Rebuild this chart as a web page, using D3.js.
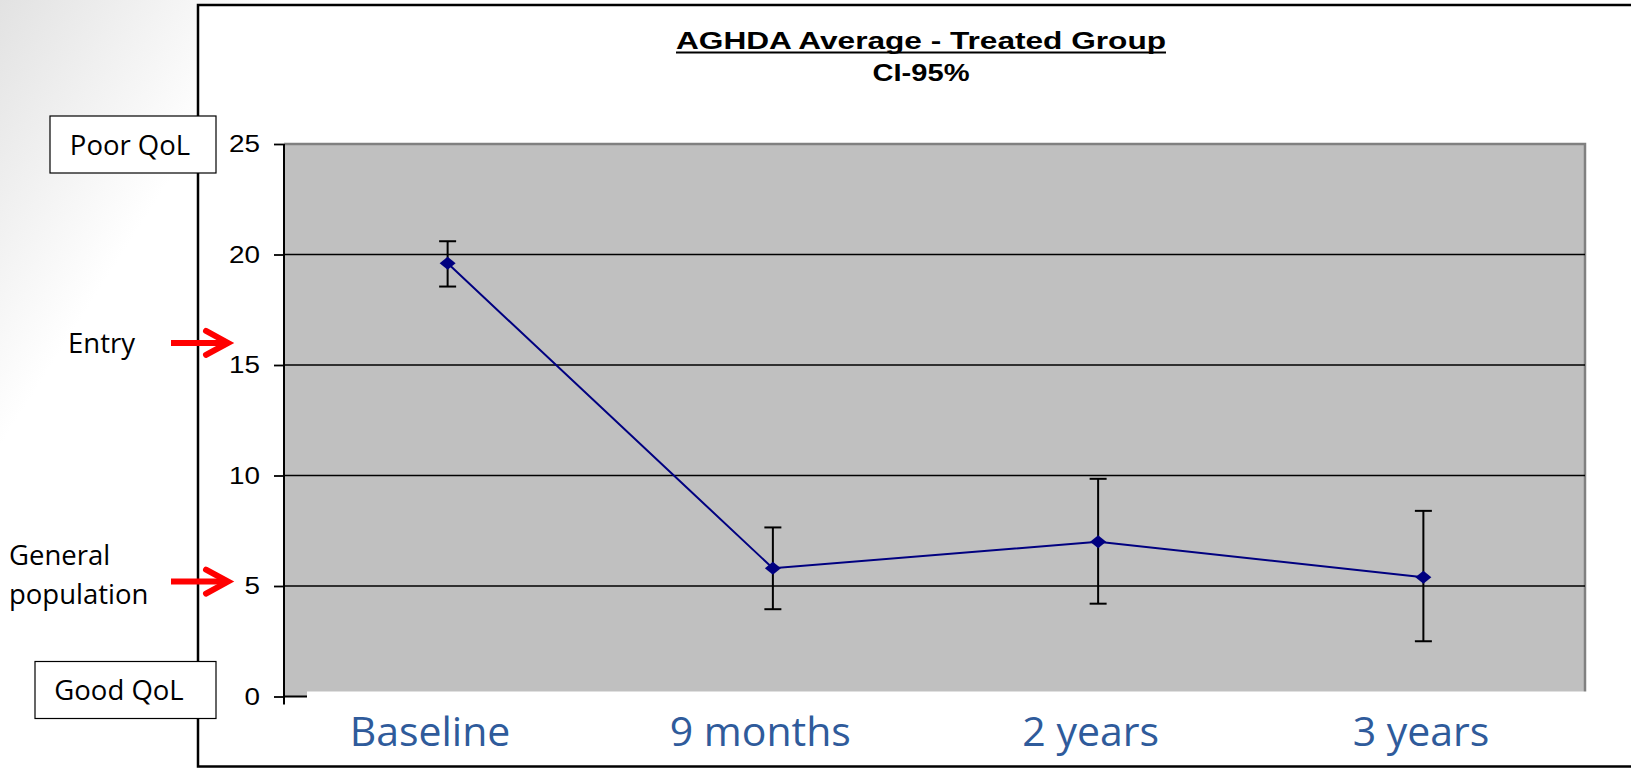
<!DOCTYPE html>
<html>
<head>
<meta charset="utf-8">
<script src="https://cdn.jsdelivr.net/npm/d3@7"></script>
<style>
  html, body { margin: 0; padding: 0; background: #fff; }
  svg { display: block; }
</style>
</head>
<body>
<svg id="chart" width="1631" height="768"></svg>
<script>
// data
var categories = ["Baseline", "9 months", "2 years", "3 years"];
var means = [19.6, 5.8, 7.0, 5.4];
var ciUpper = [20.6, 7.65, 9.85, 8.4];
var ciLower = [18.55, 3.95, 4.2, 2.5];
var yTicks = [0, 5, 10, 15, 20, 25];
var markers = [
  { label: ["Entry"], value: 16 },
  { label: ["General", "population"], value: 5.2 }
];
var qolLabels = [
  { text: "Poor QoL", value: 25 },
  { text: "Good QoL", value: 0 }
];

var svg = d3.select("#chart");
var W = 1631, H = 768;

// note: "top" clashes with window.top, so use plot* names
var plotLeft = 284, plotRight = 1585, plotTop = 144, plotBottom = 696.5;

var x = d3.scaleBand().domain(categories).range([plotLeft + 1, plotRight + 1]);
var y = d3.scaleLinear().domain([0, 25]).range([plotBottom, plotTop]);
function cx(d) { return x(d) + x.bandwidth() / 2; }

// the category names sit in a separate text box under the chart
var xLabel = d3.scalePoint().domain(categories).range([430, 1421]);

var sans = "'Open Sans', 'Noto Sans', sans-serif";
var arial = "'Liberation Sans', Arial, sans-serif";

// slide background
var defs = svg.append("defs");
var grad = defs.append("linearGradient").attr("id", "bg")
    .attr("x1", 0).attr("x2", 1).attr("y1", 0).attr("y2", 0.3);
grad.append("stop").attr("offset", "0%").attr("stop-color", "#e2e2e2");
grad.append("stop").attr("offset", "16%").attr("stop-color", "#ffffff");
grad.append("stop").attr("offset", "100%").attr("stop-color", "#ffffff");
svg.append("rect").attr("width", W).attr("height", H).attr("fill", "url(#bg)");

// chart frame
svg.append("rect")
    .attr("x", 198).attr("y", 5)
    .attr("width", 1640).attr("height", 761.5)
    .attr("fill", "#fff")
    .attr("stroke", "#000").attr("stroke-width", 2.5);

// plot area
svg.append("rect")
    .attr("x", plotLeft).attr("y", plotTop)
    .attr("width", plotRight - plotLeft).attr("height", plotBottom - plotTop)
    .attr("fill", "#c0c0c0");
svg.append("path")
    .attr("d", "M" + plotLeft + "," + plotTop + "H" + plotRight + "V" + plotBottom)
    .attr("fill", "none").attr("stroke", "#808080").attr("stroke-width", 2.5);

// gridlines
svg.append("g").selectAll("line")
    .data(yTicks.filter(function(t) { return t > 0 && t < 25; }))
    .enter().append("line")
    .attr("x1", plotLeft).attr("x2", plotRight)
    .attr("y1", function(d) { return y(d); })
    .attr("y2", function(d) { return y(d); })
    .attr("stroke", "#000").attr("stroke-width", 1.6);

// y axis (labels look horizontally stretched in the original)
var yAxis = svg.append("g")
    .attr("transform", "translate(" + plotLeft + ",0)")
    .call(d3.axisLeft(y).tickValues(yTicks).tickSize(10).tickPadding(14));
yAxis.select(".domain").remove();
yAxis.selectAll(".tick line").attr("stroke", "#000").attr("stroke-width", 1.8);
yAxis.selectAll(".tick text")
    .attr("fill", "#000")
    .attr("textLength", function(d) { return String(d).length * 15.5; })
    .attr("lengthAdjust", "spacingAndGlyphs")
    .style("font-family", arial)
    .style("font-size", "24px");
svg.append("line")
    .attr("x1", plotLeft).attr("x2", plotLeft)
    .attr("y1", plotTop).attr("y2", plotBottom + 8)
    .attr("stroke", "#000").attr("stroke-width", 2);
svg.append("line")
    .attr("x1", plotLeft).attr("x2", plotRight)
    .attr("y1", plotBottom).attr("y2", plotBottom)
    .attr("stroke", "#000").attr("stroke-width", 2);

// error bars
var eb = svg.append("g").selectAll("g")
    .data(categories).enter().append("g");
eb.append("line")
    .attr("x1", cx).attr("x2", cx)
    .attr("y1", function(d, i) { return y(ciUpper[i]); })
    .attr("y2", function(d, i) { return y(ciLower[i]); })
    .attr("stroke", "#000").attr("stroke-width", 2);
eb.append("line")
    .attr("x1", function(d) { return cx(d) - 8.5; })
    .attr("x2", function(d) { return cx(d) + 8.5; })
    .attr("y1", function(d, i) { return y(ciUpper[i]); })
    .attr("y2", function(d, i) { return y(ciUpper[i]); })
    .attr("stroke", "#000").attr("stroke-width", 2);
eb.append("line")
    .attr("x1", function(d) { return cx(d) - 8.5; })
    .attr("x2", function(d) { return cx(d) + 8.5; })
    .attr("y1", function(d, i) { return y(ciLower[i]); })
    .attr("y2", function(d, i) { return y(ciLower[i]); })
    .attr("stroke", "#000").attr("stroke-width", 2);

// mean line
var line = d3.line()
    .x(function(d, i) { return cx(categories[i]); })
    .y(function(d) { return y(d); });
svg.append("path")
    .datum(means)
    .attr("d", line)
    .attr("fill", "none").attr("stroke", "#000080").attr("stroke-width", 2);

svg.append("g").selectAll("path")
    .data(means).enter().append("path")
    .attr("d", function(d, i) {
      var px = cx(categories[i]), py = y(d);
      return "M" + (px - 8) + "," + py + "L" + px + "," + (py - 6.5) +
             "L" + (px + 8) + "," + py + "L" + px + "," + (py + 6.5) + "Z";
    })
    .attr("fill", "#000080");

// category label box (covers the bottom of the plot)
svg.append("rect")
    .attr("x", 307).attr("y", 691.5)
    .attr("width", 1300).attr("height", 73.5)
    .attr("fill", "#fff");
svg.append("g").selectAll("text")
    .data(categories).enter().append("text")
    .attr("x", function(d) { return xLabel(d); })
    .attr("y", 746)
    .attr("text-anchor", "middle")
    .attr("fill", "#2f5b9b")
    .style("font-family", sans)
    .style("font-size", "41px")
    .text(function(d) { return d; });

// left side: QoL boxes
var qb = svg.append("g").selectAll("g")
    .data(qolLabels).enter().append("g");
qb.append("rect")
    .attr("x", function(d, i) { return i === 0 ? 50 : 35; })
    .attr("width", function(d, i) { return i === 0 ? 166 : 181; })
    .attr("y", function(d) { return y(d.value) - (d.value > 0 ? 28 : 35); })
    .attr("height", 57)
    .attr("fill", "#fff").attr("stroke", "#000").attr("stroke-width", 1.2);
qb.append("text")
    .attr("x", function(d, i) { return i === 0 ? 130 : 119; })
    .attr("y", function(d) { return y(d.value) + (d.value > 0 ? 11 : 3); })
    .attr("text-anchor", "middle")
    .attr("fill", "#000")
    .style("font-family", sans)
    .style("font-size", "27.5px")
    .text(function(d) { return d.text; });

// left side: red arrows with labels
var mk = svg.append("g").selectAll("g")
    .data(markers).enter().append("g");
mk.append("line")
    .attr("x1", 171).attr("x2", 226)
    .attr("y1", function(d) { return y(d.value); })
    .attr("y2", function(d) { return y(d.value); })
    .attr("stroke", "#ff0000").attr("stroke-width", 6);
mk.append("path")
    .attr("d", function(d) {
      var py = y(d.value);
      return "M206," + (py - 12) + "L228," + py + "L206," + (py + 12);
    })
    .attr("fill", "none").attr("stroke", "#ff0000")
    .attr("stroke-width", 6).attr("stroke-linecap", "round");
mk.append("text")
    .attr("fill", "#000")
    .style("font-family", sans)
    .style("font-size", "27.5px")
    .each(function(d) {
      var t = d3.select(this);
      var py = y(d.value);
      if (d.label.length === 1) {
        t.append("tspan").attr("x", 68).attr("y", py + 10).text(d.label[0]);
      } else {
        t.append("tspan").attr("x", 9).attr("y", py - 17).text(d.label[0]);
        t.append("tspan").attr("x", 9).attr("y", py + 22).text(d.label[1]);
      }
    });

// title
svg.append("text")
    .attr("x", 921).attr("y", 49)
    .attr("text-anchor", "middle")
    .attr("fill", "#000")
    .style("font-family", arial)
    .style("font-weight", "bold")
    .style("font-size", "24px")
    .attr("textLength", 490)
    .attr("lengthAdjust", "spacingAndGlyphs")
    .text("AGHDA Average - Treated Group");
svg.append("line")
    .attr("x1", 676).attr("x2", 1166)
    .attr("y1", 52.5).attr("y2", 52.5)
    .attr("stroke", "#000").attr("stroke-width", 2);
svg.append("text")
    .attr("x", 921).attr("y", 81)
    .attr("text-anchor", "middle")
    .attr("fill", "#000")
    .style("font-family", arial)
    .style("font-weight", "bold")
    .style("font-size", "24px")
    .attr("textLength", 97)
    .attr("lengthAdjust", "spacingAndGlyphs")
    .text("CI-95%");
</script>
</body>
</html>
